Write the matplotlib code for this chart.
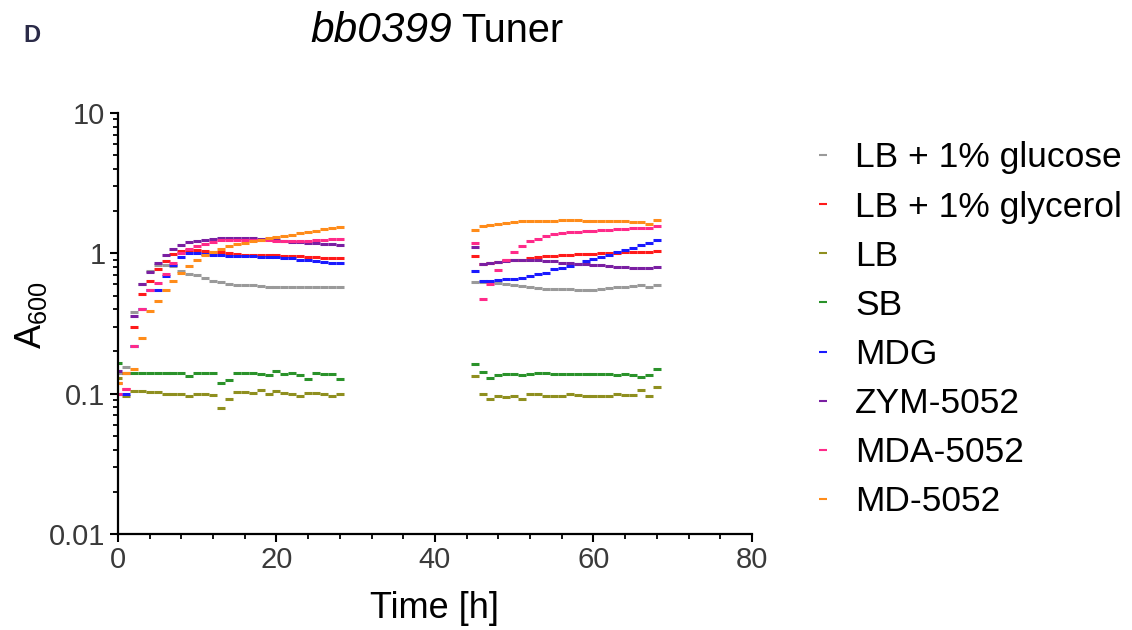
import numpy as np
import matplotlib
matplotlib.use("Agg")
import matplotlib.pyplot as plt
from matplotlib.lines import Line2D

plt.rcParams['font.family'] = ['Liberation Sans', 'DejaVu Sans']
plt.rcParams['mathtext.fontset'] = 'custom'
plt.rcParams['mathtext.rm'] = 'Liberation Sans'
plt.rcParams['mathtext.it'] = 'Liberation Sans:italic'

# time points (hours)
t_run1 = list(range(0, 29))
t_run2 = list(range(45, 69))

labels = ["LB + 1% glucose", "LB + 1% glycerol", "LB", "SB", "MDG",
          "ZYM-5052", "MDA-5052", "MD-5052"]
colors = ["#9a9a9a", "#ff1a1a", "#8f8f1f", "#2a922a", "#1a1aff",
          "#7a1fa2", "#ff2a8a", "#ff8c1a"]

lb_glucose_1 = [0.14, 0.155, 0.38, 0.60, 0.75, 0.82, 0.82, 0.81, 0.745, 0.71, 0.70, 0.67, 0.64, 0.62,
                0.607, 0.595, 0.59, 0.59, 0.585, 0.575, 0.575, 0.58, 0.575, 0.575, 0.575, 0.58, 0.575, 0.575, 0.58]
lb_glucose_2 = [0.62, 0.62, 0.62, 0.61, 0.60, 0.59, 0.585, 0.575, 0.565, 0.56, 0.555, 0.56, 0.555, 0.55,
                0.55, 0.55, 0.555, 0.565, 0.575, 0.58, 0.585, 0.59, 0.575, 0.59]

lb_glycerol_1 = [0.12, 0.108, 0.30, 0.515, 0.64, 0.775, 0.88, 0.99, 1.04, 1.05, 1.05, 1.04, 1.03, 1.02,
                 1.0, 0.99, 0.98, 0.98, 0.97, 0.97, 0.97, 0.96, 0.95, 0.95, 0.94, 0.94, 0.93, 0.93, 0.93]
lb_glycerol_2 = [0.96, 0.84, 0.85, 0.87, 0.89, 0.89, 0.90, 0.93, 0.94, 0.95, 0.96, 0.97, 0.98, 0.985,
                 0.99, 0.995, 1.0, 1.0, 1.01, 1.02, 1.03, 1.02, 1.03, 1.04]

lb_1 = [0.13, 0.096, 0.104, 0.104, 0.102, 0.102, 0.1, 0.1, 0.1, 0.097, 0.1, 0.1, 0.098, 0.079, 0.092,
        0.102, 0.102, 0.101, 0.106, 0.1, 0.105, 0.101, 0.1, 0.097, 0.101, 0.101, 0.0995, 0.097, 0.0995]
lb_2 = [0.134, 0.099, 0.092, 0.097, 0.095, 0.096, 0.092, 0.099, 0.1, 0.097, 0.097, 0.097, 0.099, 0.098,
        0.096, 0.096, 0.096, 0.096, 0.099, 0.098, 0.098, 0.107, 0.096, 0.112]

sb_1 = [0.165, 0.141, 0.141, 0.141, 0.141, 0.141, 0.141, 0.141, 0.141, 0.134, 0.141, 0.141, 0.141, 0.12,
        0.125, 0.141, 0.141, 0.141, 0.139, 0.136, 0.145, 0.139, 0.141, 0.136, 0.127, 0.141, 0.139, 0.139, 0.127]
sb_2 = [0.163, 0.142, 0.129, 0.135, 0.137, 0.137, 0.135, 0.138, 0.14, 0.14, 0.139, 0.138, 0.138, 0.138,
        0.138, 0.138, 0.138, 0.139, 0.136, 0.139, 0.135, 0.132, 0.136, 0.15]

mdg_1 = [0.10, 0.10, 0.217, 0.40, 0.545, 0.55, 0.685, 0.82, 0.935, 1.0, 1.0, 0.99, 0.98, 0.97, 0.965,
         0.96, 0.955, 0.95, 0.945, 0.94, 0.935, 0.93, 0.92, 0.9, 0.89, 0.88, 0.87, 0.86, 0.85]
mdg_2 = [0.75, 0.631, 0.64, 0.65, 0.655, 0.66, 0.67, 0.69, 0.71, 0.73, 0.77, 0.78, 0.81, 0.84, 0.875,
         0.91, 0.945, 0.98, 1.02, 1.06, 1.1, 1.14, 1.19, 1.24]

zym_1 = [0.145, 0.14, 0.356, 0.60, 0.735, 0.85, 0.97, 1.08, 1.15, 1.2, 1.23, 1.25, 1.27, 1.29, 1.29,
         1.29, 1.29, 1.28, 1.27, 1.26, 1.24, 1.22, 1.21, 1.2, 1.19, 1.18, 1.17, 1.16, 1.15]
zym_2 = [1.11, 0.84, 0.855, 0.87, 0.88, 0.89, 0.89, 0.89, 0.89, 0.885, 0.875, 0.86, 0.85, 0.84, 0.835,
         0.825, 0.82, 0.81, 0.805, 0.8, 0.79, 0.785, 0.78, 0.80]

mda_1 = [0.10, 0.108, 0.217, 0.40, 0.545, 0.61, 0.71, 0.85, 1.0, 1.08, 1.13, 1.17, 1.2, 1.24, 1.25,
         1.25, 1.25, 1.25, 1.25, 1.24, 1.23, 1.22, 1.22, 1.22, 1.23, 1.24, 1.25, 1.26, 1.27]
mda_2 = [1.18, 0.47, 0.60, 0.756, 0.89, 1.02, 1.13, 1.22, 1.27, 1.32, 1.37, 1.40, 1.41, 1.43, 1.44,
         1.45, 1.46, 1.47, 1.48, 1.5, 1.51, 1.52, 1.52, 1.57]

md_1 = [0.12, 0.14, 0.15, 0.25, 0.39, 0.46, 0.55, 0.64, 0.73, 0.81, 0.9, 0.97, 1.02, 1.07, 1.12, 1.16,
        1.19, 1.22, 1.25, 1.28, 1.3, 1.33, 1.36, 1.39, 1.42, 1.45, 1.48, 1.51, 1.54]
md_2 = [1.47, 1.56, 1.59, 1.62, 1.65, 1.67, 1.69, 1.70, 1.71, 1.71, 1.71, 1.72, 1.72, 1.72, 1.71, 1.71,
        1.70, 1.70, 1.69, 1.69, 1.68, 1.67, 1.63, 1.72]

series = [(lb_glucose_1, lb_glucose_2), (lb_glycerol_1, lb_glycerol_2), (lb_1, lb_2), (sb_1, sb_2),
          (mdg_1, mdg_2), (zym_1, zym_2), (mda_1, mda_2), (md_1, md_2)]

fig = plt.figure(figsize=(11.32, 6.30), dpi=100)
ax = fig.add_axes([0.1042, 0.1524, 0.5601, 0.6682])

for (s1, s2), c in zip(series, colors):
    ax.plot(t_run1 + t_run2, s1 + s2, linestyle='None', marker='_', color=c,
            markersize=6.4, markeredgewidth=2.2)

ax.set_yscale('log')
ax.set_ylim(0.01, 10)
ax.set_xlim(0, 80)
ax.set_xticks([0, 20, 40, 60, 80])
ax.set_xticks(np.arange(0, 81, 4), minor=True)
ax.set_yticks([0.01, 0.1, 1, 10])
ax.set_yticklabels(["0.01", "0.1", "1", "10"])
for s in ['top', 'right']:
    ax.spines[s].set_visible(False)
for s in ['left', 'bottom']:
    ax.spines[s].set_linewidth(1.6)
    ax.spines[s].set_color('black')
ax.tick_params(which='major', length=6, width=1.5, labelsize=21, labelcolor='#3a3a3a', pad=3)
ax.tick_params(which='minor', length=3.5, width=1.3)
ax.set_xlabel("Time [h]", fontsize=26, labelpad=12)
ax.set_ylabel(r"$\mathregular{A_{600}}$", fontsize=26)
ax.yaxis.set_label_coords(-0.108, 0.52)

fig.text(452 / 1132, 1 - 42 / 630, "bb0399", fontsize=30.5, fontstyle='italic', ha='right', va='baseline')
fig.text(461 / 1132, 1 - 42 / 630, "Tuner", fontsize=28.5, ha='left', va='baseline')
fig.text(0.021, 0.943, "D", fontsize=17, fontweight='bold', color='#2b2b48', ha='left', va='center')

handles = [Line2D([], [], linestyle='None', marker='_', color=c, markersize=6, markeredgewidth=1.5)
           for c in colors]
fig.legend(handles, labels, loc='upper left', bbox_to_anchor=(0.6866, 0.826), frameon=False,
           fontsize=25.5, labelspacing=0.455, handletextpad=0.5, handlelength=0.8)

fig.savefig("out.png", dpi=100)
